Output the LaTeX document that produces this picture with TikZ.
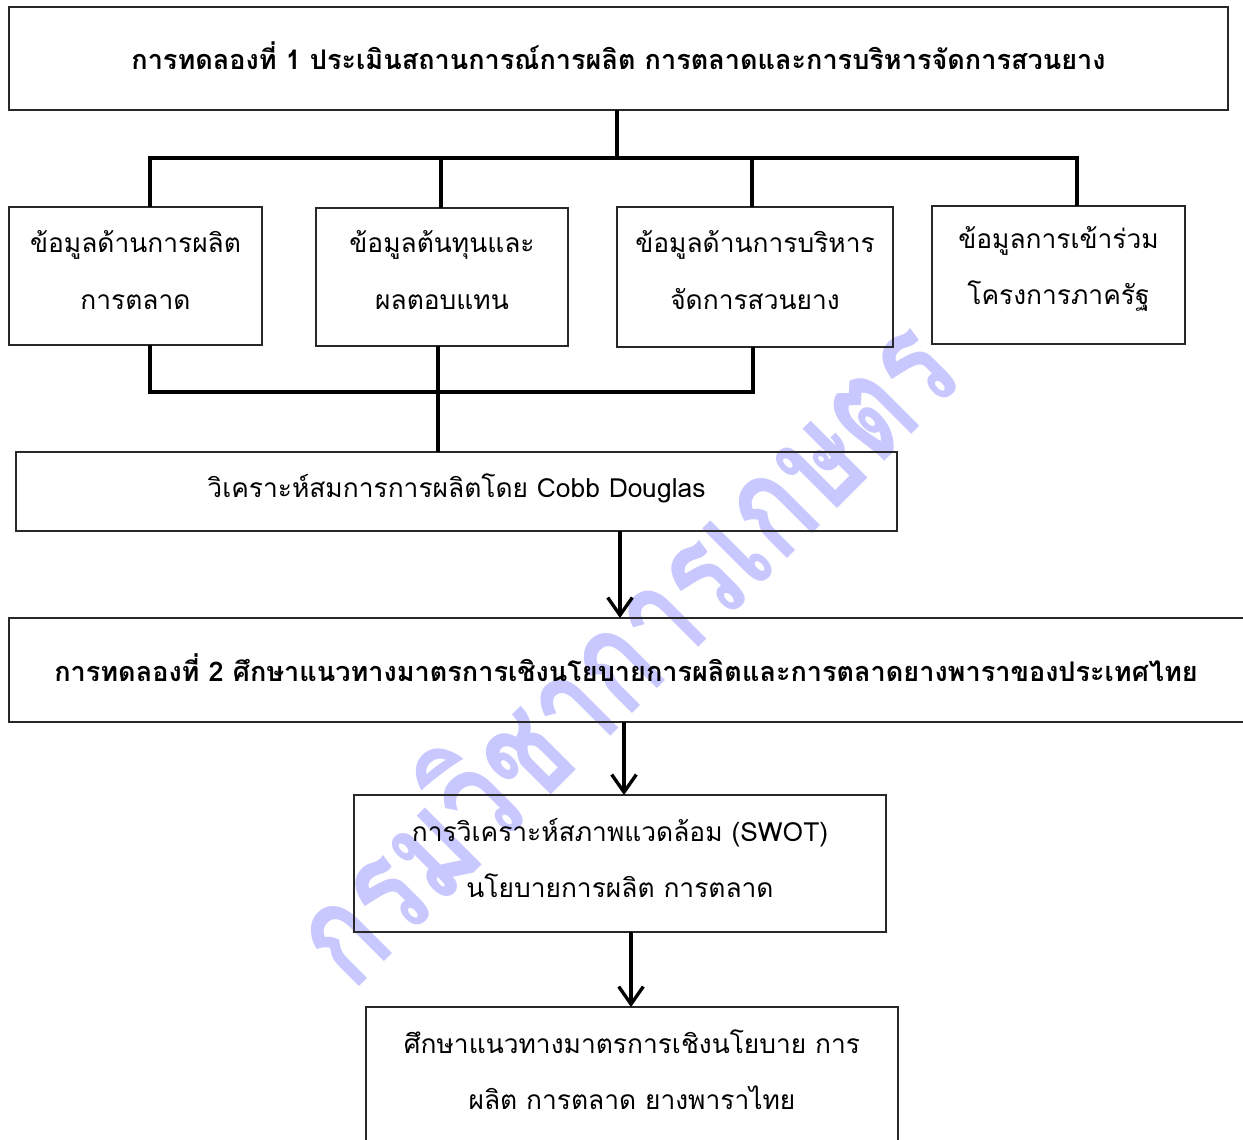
\documentclass[tikz,border=0pt]{standalone}
\usepackage{fontspec}
\setmainfont{Loma}[Script=Thai]
\usetikzlibrary{arrows.meta,calc}
\definecolor{wm}{RGB}{200,200,255}
\definecolor{edge}{RGB}{40,40,40}
\begin{document}
\begin{tikzpicture}[x=0.02cm,y=-0.02cm,
  box/.style={draw=edge,line width=0.8pt,fill=none,inner sep=0pt,outer sep=0pt,align=center},
  txt/.style={align=center,inner sep=0pt,font=\fontsize{15}{32}\selectfont},
  btxt/.style={align=center,inner sep=0pt,font=\fontsize{15.4}{32}\selectfont\bfseries},
  conn/.style={line width=2pt,line join=miter},
  arr/.style={line width=1.9pt,-{Straight Barb[length=10pt,width=14pt,line width=1.9pt]}}]
\useasboundingbox (0,0) rectangle (1243,1139);
\fill[white] (0,0) rectangle (1243,1139);
% watermark
\node[rotate=45,yscale=1.35,text=wm,inner sep=0pt,font=\fontsize{61}{61}\selectfont\bfseries] (wmk) at (618,645) {กรมวิชาการเกษตร};
% boxes
\node[box,minimum width=24.38cm,minimum height=2.06cm] (T) at (618.5,58.5) {};
\node[btxt] (Tt) at (618.5,56) {การทดลองที่ 1 ประเมินสถานการณ์การผลิต การตลาดและการบริหารจัดการสวนยาง};
\node[box,minimum width=5.06cm,minimum height=2.76cm] (B1) at (135.5,276) {};
\node[txt] (B1t) at (135.5,270) {ข้อมูลด้านการผลิต\\การตลาด};
\node[box,minimum width=5.04cm,minimum height=2.76cm] (B2) at (442,277) {};
\node[txt] (B2t) at (442,270) {ข้อมูลต้นทุนและ\\ผลตอบแทน};
\node[box,minimum width=5.52cm,minimum height=2.8cm] (B3) at (755,277) {};
\node[txt] (B3t) at (755,270) {ข้อมูลด้านการบริหาร\\จัดการสวนยาง};
\node[box,minimum width=5.06cm,minimum height=2.76cm] (B4) at (1058.5,275) {};
\node[txt] (B4t) at (1058.5,269) {ข้อมูลการเข้าร่วม\\โครงการภาครัฐ};
\node[box,minimum width=17.62cm,minimum height=1.58cm] (C) at (456.5,491.5) {};
\node[txt] (Ct) at (456.5,488) {วิเคราะห์สมการการผลิตโดย Cobb Douglas};
\node[box,minimum width=24.84cm,minimum height=2.08cm] (E2) at (630,670) {};
\node[btxt] (E2t) at (626,668) {การทดลองที่ 2 ศึกษาแนวทางมาตรการเชิงนโยบายการผลิตและการตลาดยางพาราของประเทศไทย};
\node[box,minimum width=10.64cm,minimum height=2.74cm] (S) at (620,863.5) {};
\node[txt] (St) at (620,858) {การวิเคราะห์สภาพแวดล้อม (SWOT)\\นโยบายการผลิต การตลาด};
\node[box,minimum width=10.64cm,minimum height=2.9cm] (L) at (632,1079.5) {};
\node[txt] (Lt) at (632,1070) {ศึกษาแนวทางมาตรการเชิงนโยบาย การ\\ผลิต การตลาด ยางพาราไทย};
% connectors
\coordinate (hL) at (150,158);
\coordinate (hR) at (1077,158);
\coordinate (x2) at (441,158);
\coordinate (x3) at (752,158);
\draw[conn] (T.south -| 617,0) -- (617,158);
\draw[conn] (B1.north -| hL) -- (hL) -- (hR) -- (B4.north -| hR);
\draw[conn] (x2) -- (x2 |- B2.north);
\draw[conn] (x3) -- (x3 |- B3.north);
\coordinate (lL) at (150,392);
\coordinate (lR) at (753,392);
\coordinate (x2b) at (438,392);
\draw[conn] (B1.south -| lL) -- (lL) -- (lR) -- (B3.south -| lR);
\draw[conn] (x2b |- B2.south) -- (x2b |- C.north);
\coordinate (a1) at (620,575);
\coordinate (a2) at (624,760);
\coordinate (a3) at (631,970);
\draw[arr] (a1 |- C.south) -- (a1 |- E2.north);
\draw[arr] (a2 |- E2.south) -- (a2 |- S.north);
\draw[arr] (a3 |- S.south) -- (a3 |- L.north);
\end{tikzpicture}
\end{document}
